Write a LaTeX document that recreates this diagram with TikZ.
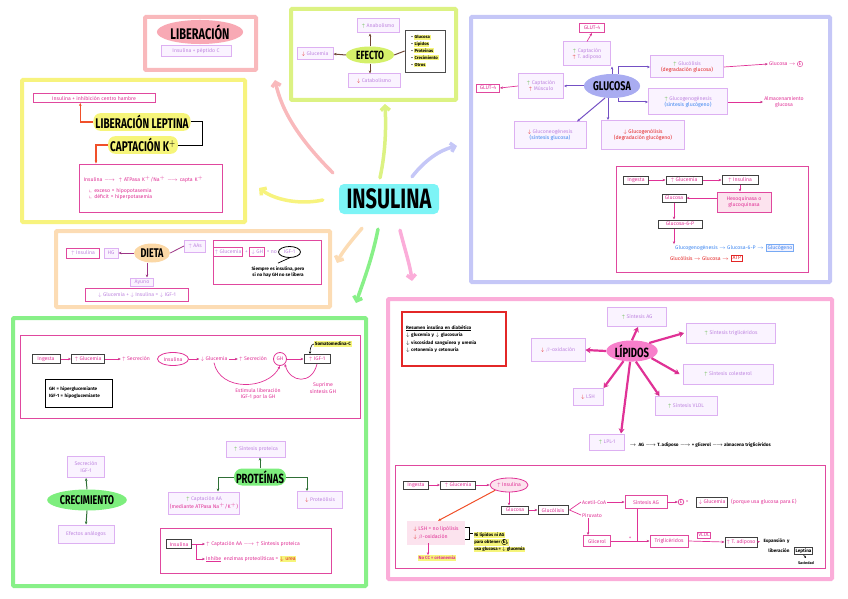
\documentclass[tikz,border=0pt]{standalone}
\usepackage{amssymb}
\usepackage{fontspec}
\setmainfont{Fira Sans}
\usetikzlibrary{arrows.meta,shapes.geometric,positioning}

% colours
\definecolor{libpink}{HTML}{F9B9BC}
\definecolor{lemon}{HTML}{F7F37E}
\definecolor{lime}{HTML}{DCF283}
\definecolor{lavreg}{HTML}{C5C7F7}
\definecolor{peach}{HTML}{FCDCB4}
\definecolor{mint}{HTML}{88F088}
\definecolor{rosereg}{HTML}{FBADD9}
\definecolor{framepink}{HTML}{E0489E}
\definecolor{lavline}{HTML}{DDB0F2}
\definecolor{lavfill}{HTML}{FAF3FF}
\definecolor{lavtext}{HTML}{BF86E0}
\definecolor{magtext}{HTML}{E03296}
\definecolor{upgreen}{HTML}{62B84A}
\definecolor{dnred}{HTML}{E32727}
\definecolor{bluetext}{HTML}{3D86F0}
\definecolor{cyanhub}{HTML}{7DF4F6}
\definecolor{hlyellow}{HTML}{F6F57A}
\definecolor{hlpink}{HTML}{F8A9B4}
\definecolor{limehub}{HTML}{D4F06A}
\definecolor{peachhub}{HTML}{FBD8A6}
\definecolor{glucohub}{HTML}{A9ACF1}
\definecolor{lipohub}{HTML}{F77FCB}
\definecolor{greenhub}{HTML}{7DEE7D}
\definecolor{purpline}{HTML}{7450C4}
\definecolor{brownline}{HTML}{6E4536}
\definecolor{plumline}{HTML}{9C3585}
\definecolor{forest}{HTML}{2F6F36}
\definecolor{orangered}{HTML}{F0502A}
\definecolor{nolipfill}{HTML}{FCE3EE}

\newcommand{\hand}{\fontsize{5.2}{6.2}\selectfont}
\newcommand{\tall}[1]{\scalebox{1}[1.4]{#1}}
\newcommand{\upg}{\textcolor{upgreen}{$\uparrow$}}
\newcommand{\upr}{\textcolor{dnred}{$\uparrow$}}
\newcommand{\dnr}{\textcolor{dnred}{$\downarrow$}}
\newcommand{\hly}[1]{{\setlength{\fboxsep}{0.6pt}\colorbox{hlyellow}{#1}}}
\newcommand{\encirc}[1]{\tikz[baseline=-0.6ex]\node[draw,circle,inner sep=0.3pt,font=\hand]{#1};}

\tikzset{
  region/.style={draw=#1, line width=4pt, rounded corners=1pt},
  frame/.style={draw=framepink, line width=0.9pt},
  lavbox/.style={draw=lavline, fill=lavfill, line width=1pt, text=lavtext,
    font=\hand, align=center, inner sep=1.5pt},
  pinkbox/.style={draw=framepink, fill=white, line width=0.9pt, text=magtext,
    font=\hand, align=center, inner sep=1.5pt},
  blackbox/.style={draw=black!75, line width=1pt, text=magtext, font=\hand,
    align=center, inner sep=1.2pt},
  hub/.style={fill=#1, ellipse, inner sep=1pt},
  note/.style={font=\hand, text=magtext, align=center, inner sep=1pt},
  branch/.style={draw=#1, line width=3.5pt, line cap=round,
    -{Straight Barb[length=4pt,width=9pt]}},
  link/.style={draw=magtext, line width=0.7pt, -{Stealth[length=3pt,width=2.4pt]}},
  arr/.style={draw=#1, line width=1pt, -{Stealth[length=3pt,width=2.6pt]}},
  fat/.style={draw=#1, line width=2.2pt, -{Stealth[length=5pt,width=6pt]}},
}

\begin{document}
\begin{tikzpicture}[x=1pt,y=-1pt]
\useasboundingbox (0,0) rectangle (848,599);

% regions
\draw[region=libpink] (145,17) rectangle (256,70);
\draw[region=lemon] (22,80) rectangle (245,222);
\draw[region=lime] (291,9) rectangle (456,100);
\draw[region=lavreg] (471,17) rectangle (830,282);
\draw[region=peach] (56,231) rectangle (330,307);
\draw[region=mint] (13,318) rectangle (366,586);
\draw[region=rosereg] (388,299) rectangle (832,579);

% inner frames
\draw[frame] (616,166) rectangle (808,272);
\draw[frame] (213,240) rectangle (321,284);
\draw[frame] (20,335) rectangle (360,418);
\draw[frame] (160,528) rectangle (331,573);
\draw[frame] (395,465) rectangle (825,568);

% centre
\node[fill=cyanhub, rounded corners=5pt, minimum width=100, minimum height=30,
  font=\fontsize{20}{22}\bfseries] (insulina) at (389,199) {\tall{INSULINA}};

\draw[branch=libpink] ([shift={(-6,-11)}]insulina.north west) .. controls (300,140) and (282,112) .. (275,80);
\draw[branch=lemon] ([shift={(-16,1)}]insulina.west) .. controls (300,205) and (275,200) .. (259,188);
\draw[branch=lime] ([shift={(-9,-6)}]insulina.north) .. controls (386,150) and (386,125) .. (385,104);
\draw[branch=lavreg] ([shift={(23,-7)}]insulina.north) .. controls (425,160) and (440,150) .. (457,146);
\draw[branch=peach] ([shift={(-27,14)}]insulina.south) .. controls (352,240) and (342,252) .. (337,263);
\draw[branch=mint] ([shift={(-11,15)}]insulina.south) .. controls (372,260) and (362,285) .. (356,303);
\draw[branch=rosereg] ([shift={(11,16)}]insulina.south) .. controls (405,250) and (410,265) .. (412,281);

% liberacion
\node[hub=hlpink, minimum width=78, minimum height=16, font=\fontsize{11}{12}\bfseries] (liber) at (200,32) {\tall{LIBERACIÓN}};
\node[lavbox, minimum width=70, minimum height=11] (pepc) at (196,51) {Insulina + péptido C};

% leptina y potasio
\node[pinkbox, minimum width=122, minimum height=9] (hambre) at (94,98) {Insulina + inhibición centro hambre};
\node[fill=hlyellow, rounded corners=7pt, inner sep=2pt, font=\fontsize{10}{11}\bfseries] (leptina) at (142,122) {\tall{LIBERACIÓN LEPTINA}};
\node[fill=hlyellow, rounded corners=7pt, inner sep=2pt, font=\fontsize{10}{11}\bfseries] (captk) at (143,145) {\tall{CAPTACIÓN K$^+$}};
\draw[line width=1pt] (leptina.east) -- ++(12,0) |- (captk.east);
\node[pinkbox, align=left, minimum width=143, minimum height=48, text width=134] (katp) at (150.5,188)
  {Insulina $\longrightarrow$ \ $\uparrow$ ATPasa K$^+$/Na$^+$ $\longrightarrow$ capta K$^+$\\[4pt]
   \quad$\llcorner$ exceso = hipopotasemia\\
   \quad$\llcorner$ déficit = hiperpotasemia};
\draw[arr=orangered, line width=1.3pt] (leptina.west) -- ++(-13,0) coordinate (lepc) -- (lepc |- hambre.south);
\draw[arr=orangered, line width=1.3pt] (captk.west) -- ++(-12,0) coordinate (kc) -- (kc |- katp.north);

% efecto
\node[hub=limehub, minimum width=48, minimum height=17, font=\fontsize{8.5}{9}\bfseries] (efecto) at (370,55) {\tall{EFECTO}};
\node[lavbox, minimum width=42, minimum height=14] (anab) at (378,26) {\upg\ Anabolismo};
\node[lavbox, minimum width=36, minimum height=12] (glucem) at (315,54) {\dnr\ Glucemia};
\node[lavbox, minimum width=52, minimum height=14] (catab) at (374,81) {\dnr\ Catabolismo};
\node[draw=black!70, line width=0.8pt, align=left, font=\fontsize{4.3}{6.8}\selectfont\bfseries,
  inner sep=2pt, minimum width=40, minimum height=42] (efelist) at (425,51)
  {• \hly{Glucosa}\\ • \hly{Lípidos}\\ • \hly{Proteínas}\\ • \hly{Crecimiento}\\ • \hly{Otros}};
\draw[arr=brownline] (efecto.north) -- (efecto.north |- anab.south);
\draw[arr=brownline] (efecto.south) -- (efecto.south |- catab.north);
\draw[arr=brownline] (efecto.west) -- (glucem.east);
\draw[brownline, line width=1pt] (efecto.east) -- (efelist.west);

% glucosa
\node[hub=glucohub, minimum width=52, minimum height=24, font=\fontsize{9}{10}\bfseries] (glucosa) at (612,86) {\tall{GLUCOSA}};
\node[pinkbox, minimum width=25, minimum height=9] (glutA) at (592,28) {GLUT-4};
\node[lavbox, minimum width=47, minimum height=24] (captad) at (587,54) {\upg\ Captación\\ \upr\ T. adiposo};
\node[lavbox, minimum width=45, minimum height=25] (captmus) at (541,86) {\upg\ Captación\\ \upr\ Músculo};
\node[pinkbox, minimum width=23, minimum height=8] (glutB) at (488,88) {GLUT-4};
\node[lavbox, minimum width=73, minimum height=22] (glucolis) at (687,67) {\upg\ Glucólisis\\ \textcolor{dnred}{(degradación glucosa)}};
\node[note] (gluce) at (786,64) {Glucosa $\rightarrow$ \encirc{E}};
\node[lavbox, minimum width=79, minimum height=26] (glucogen) at (688,102) {\upg\ Glucogenogénesis\\ \textcolor{bluetext}{(síntesis glucógeno)}};
\node[note] (almac) at (784,102) {Almacenamiento\\ glucosa};
\node[lavbox, minimum width=72, minimum height=26] (neo) at (550,135) {\dnr\ Gluconeogénesis\\ \textcolor{bluetext}{(síntesis glucosa)}};
\node[lavbox, text=dnred, minimum width=83, minimum height=29] (lisis) at (643,135) {$\downarrow$ Glucogenólisis\\ (degradación glucógeno)};
\draw[arr=purpline] (glucosa.north) -- (glucosa.north |- captad.south);
\draw[arr=purpline] (glucosa.west) -- (captmus.east);
\draw[arr=purpline] ([xshift=6]glucosa.north) |- (glucolis.west);
\draw[arr=purpline] ([xshift=6]glucosa.south) |- (glucogen.west);
\draw[arr=purpline] (glucosa.-120) -- ([xshift=27]neo.north);
\draw[arr=purpline] ([xshift=-4]glucosa.south) -- ([xshift=-35]lisis.north);
\draw[link] (captad.north) -- (glutA.south);
\draw[link] (captmus.west) -- (glutB.east);
\draw[link] (glucolis.east) -- (gluce.west);
\draw[link] (glucogen.east) -- (almac.west);

% glucosa: via hepatica
\node[blackbox, minimum width=25, minimum height=8] (ingA) at (636,180) {Ingesta};
\node[blackbox, minimum width=36, minimum height=8] (glmA) at (684,180) {$\uparrow$ Glucemia};
\node[blackbox, minimum width=36, minimum height=9] (insA) at (740,180) {$\uparrow$ Insulina};
\node[pinkbox, fill=nolipfill, minimum width=54, minimum height=20] (hexo) at (744,202) {Hexoquinasa o\\ glucoquinasa};
\node[blackbox, minimum width=24, minimum height=8] (glcA) at (674,198) {Glucosa};
\node[blackbox, minimum width=44, minimum height=8] (g6p) at (680,224) {Glucosa-6-P};
\node[note, text=bluetext, anchor=east] (glgen) at (765,248) {Glucogenogénesis $\rightarrow$ Glucosa-6-P $\rightarrow$};
\node[draw=bluetext!70, fill=blue!5, text=bluetext, font=\hand, inner sep=1.2pt, line width=0.8pt, right=1pt of glgen] (glucog) {Glucógeno};
\node[note, text=dnred, anchor=east] (glisA) at (730,258) {Glucólisis $\rightarrow$ Glucosa $\rightarrow$};
\node[draw=dnred, text=dnred, font=\hand, inner sep=1.2pt, line width=0.8pt, right=1pt of glisA] (atp) {ATP};
\draw[link] (ingA) -- (glmA);
\draw[link] (glmA) -- (insA);
\draw[link] (insA.south) -- (insA.south |- hexo.north);
\draw[link] (hexo.west |- glcA) -- (glcA.east);
\draw[link] (glcA.south) -- (glcA.south |- g6p.north);
\draw[link] (glcA |- g6p.south) -- (glcA |- glgen.north);

% dieta
\node[hub=peachhub, minimum width=36, minimum height=19, font=\fontsize{9}{10}\bfseries] (dieta) at (152,253) {\tall{DIETA}};
\node[pinkbox, text=lavtext, minimum width=33, minimum height=10] (insD) at (83,253) {$\uparrow$ Insulina};
\node[lavbox, minimum width=14, minimum height=10] (hgD) at (111,253) {HG};
\node[lavbox, minimum width=21, minimum height=12] (aasD) at (195,246) {$\uparrow$ AAs};
\node[lavbox, minimum width=23, minimum height=8] (ayuno) at (142,282) {Ayuno};
\node[pinkbox, text=lavtext, minimum width=103, minimum height=13] (ayres) at (137,295) {$\downarrow$ Glucemia + $\downarrow$ Insulina = $\downarrow$ IGF-1};
\draw[arr=plumline, line width=0.8pt] (dieta.west) -- (hgD.east);
\draw[plumline, line width=0.8pt] (dieta.east) -- (aasD.west);
\draw[arr=plumline, line width=0.8pt] ([xshift=-5]dieta.south) -- ([xshift=5]ayuno.north);
\node[pinkbox, text=lavtext, minimum width=28, minimum height=9] (glmD) at (228,252) {$\uparrow$ Glucemia};
\node[note, text=lavtext, right=0.5pt of glmD] (plusD) {+};
\node[pinkbox, text=lavtext, minimum width=14, minimum height=9, right=0.5pt of plusD] (ghD) {$\downarrow$ GH};
\node[note, text=lavtext, right=0.5pt of ghD] (eqD) {= no};
\node[draw=black, ellipse, line width=0.8pt, font=\hand, text=lavtext, inner sep=0.5pt,
  minimum width=22, minimum height=11, right=0pt of eqD] (igfD) {IGF-1};
\node[font=\fontsize{4.6}{6}\selectfont\bfseries, align=center] (noteD) at (278,272) {Siempre es insulina, pero\\ si no hay GH no se libera};
\draw[line width=0.7pt] (igfD.south) -- (noteD.north);

% crecimiento: eje GH / IGF-1
\node[blackbox, minimum width=28, minimum height=9] (ingG) at (46,359) {Ingesta};
\node[blackbox, minimum width=33, minimum height=9] (glmG) at (88,359) {$\uparrow$ Glucemia};
\node[note] (secG) at (136,359) {$\uparrow$ Secreción};
\node[draw=magtext, ellipse, line width=0.8pt, text=magtext, font=\hand, inner sep=0.5pt,
  minimum width=31, minimum height=13] (insG) at (173,359) {Insulina};
\node[note] (glmG2) at (214,359) {$\downarrow$ Glucemia};
\node[note] (secG2) at (253,359) {$\uparrow$ Secreción};
\node[draw=magtext, circle, line width=0.8pt, text=magtext, font=\hand, inner sep=0.5pt, minimum size=13] (ghG) at (280,359) {GH};
\node[blackbox, minimum width=26, minimum height=9] (igfG) at (317,359) {$\uparrow$ IGF-1};
\node[font=\fontsize{4.6}{5}\selectfont\bfseries, fill=hlyellow, inner sep=0.8pt] (somat) at (333,344) {Somatomedina-C};
\draw[link] (ingG) -- (glmG);
\draw[link] (glmG) -- (secG);
\draw[link] (insG) -- (glmG2);
\draw[link] (glmG2) -- (secG2);
\draw[link] (ghG) -- (igfG);
\draw[-{Stealth[length=2.5pt,width=2.2pt]}, line width=0.6pt] (somat.west) .. controls +(-3,0) and +(0,-4) .. ([xshift=-7]igfG.north);
\draw[link] (glmG2.south) .. controls (220,392) and (268,390) .. (ghG.south);
\node[note] (estim) at (258,394) {Estimula liberación\\ IGF-1 por la GH};
\draw[link] (igfG.south) .. controls (312,385) and (290,383) .. (ghG.south east);
\node[note] (supr) at (323,388) {Suprime\\ síntesis GH};
\node[draw=black, line width=0.9pt, align=left, font=\fontsize{4.6}{7}\selectfont\bfseries,
  minimum width=66, minimum height=28, text width=60] (legend) at (79,393) {GH = hiperglucemiante\\ IGF-1 = hipoglucemiante};

% crecimiento y proteinas
\node[hub=greenhub, minimum width=72, minimum height=21, font=\fontsize{9}{10}\bfseries] (crec) at (87,500) {\tall{CRECIMIENTO}};
\node[lavbox, minimum width=37, minimum height=21] (secigf) at (86,467) {Secreción\\ IGF-1};
\node[lavbox, minimum width=56, minimum height=18] (efan) at (86,534) {Efectos análogos};
\draw[arr=forest] (crec.north) -- (secigf.south);
\draw[arr=forest] (crec.south) -- (efan.north);
\node[fill=greenhub, rounded corners=8pt, inner sep=2pt, minimum height=17, font=\fontsize{9.5}{10}\bfseries] (prot) at (260,477) {\tall{PROTEÍNAS}};
\node[lavbox, minimum width=59, minimum height=16] (sintp) at (256,449) {\upg\ Síntesis proteica};
\node[lavbox, minimum width=64, minimum height=22] (captaa) at (204,503) {\upg\ Captación AA\\ \textcolor{magtext}{(mediante ATPasa Na$^+$/K$^+$)}};
\node[lavbox, minimum width=45, minimum height=17] (proteol) at (320,500) {\dnr\ Proteólisis};
\draw[arr=forest] (prot.north) -- (prot.north |- sintp.south);
\draw[arr=forest] (prot.west) -| ([xshift=14]captaa.north);
\draw[arr=forest] (prot.east) -| ([xshift=-13]proteol.north);
\node[blackbox, minimum width=25, minimum height=9] (insP) at (179,544) {Insulina};
\node[note, anchor=west] (protA) at (205,544) {$\uparrow$ Captación AA $\longrightarrow$ $\uparrow$ Síntesis proteica};
\node[note, anchor=west] (protB) at (205,559) {\underline{Inhibe} \ enzimas proteolíticas = \hly{\textcolor{dnred}{$\downarrow$ urea}}};
\draw[link] (insP.east) -- (protA.west);
\draw[link] ([xshift=4]insP.east) |- (protB.west);

% lipidos
\node[draw=dnred, line width=1.5pt, align=left, font=\fontsize{4.6}{7.5}\selectfont\bfseries,
  text width=96, minimum height=54, inner sep=4pt] (resumen) at (454,339)
  {\underline{Resumen insulina en diabético}\\ $\downarrow$ glucemia y $\downarrow$ glucosuria\\
   $\downarrow$ viscosidad sanguínea y uremia\\ $\downarrow$ cetonemia y cetonuria};
\node[hub=lipohub, minimum width=46, minimum height=21, font=\fontsize{9.5}{10}\bfseries] (lipidos) at (632,351) {\tall{LÍPIDOS}};
\node[lavbox, minimum width=59, minimum height=19] (sag) at (637,317) {\upg\ Síntesis AG};
\node[lavbox, minimum width=89, minimum height=20] (stg) at (731,333) {\upg\ Síntesis triglicéridos};
\node[lavbox, minimum width=54, minimum height=23] (boxi) at (558,350) {\dnr\ $\beta$-oxidación};
\node[lavbox, minimum width=90, minimum height=20] (scol) at (728,374) {\upg\ Síntesis colesterol};
\node[lavbox, minimum width=30, minimum height=17] (lsh) at (588,397) {\dnr\ LSH};
\node[lavbox, minimum width=62, minimum height=19] (svldl) at (686,406) {\upg\ Síntesis VLDL};
\node[lavbox, minimum width=35, minimum height=16] (lpl) at (607,442) {\upg\ LPL-1};
\node[font=\fontsize{4.6}{5}\selectfont\bfseries, anchor=west] (lplt) at (626,445)
  {$\rightarrow$ \ AG $\longrightarrow$ T. adiposo $\longrightarrow$ + glicerol $\longrightarrow$ almacena triglicéridos};
\draw[fat=magtext] (lipidos.north) -- ([xshift=1]sag.south);
\draw[fat=magtext] (lipidos.25) -- ([xshift=-2]stg.west);
\draw[fat=magtext] (lipidos.west) -- (boxi.east);
\draw[fat=magtext] (lipidos.-20) -- ([xshift=-3]scol.west);
\draw[fat=magtext] (lipidos.-130) -- (lsh.north east);
\draw[fat=magtext] (lipidos.-70) -- ([xshift=5]svldl.north west);
\draw[fat=magtext] (lipidos.-100) -- ([xshift=-4]lpl.north east);

% lipidos: via del tejido adiposo
\node[blackbox, minimum width=25, minimum height=8] (ingL) at (416,485) {Ingesta};
\node[blackbox, minimum width=35, minimum height=8] (glmL) at (458,485) {$\uparrow$ Glucemia};
\node[draw=magtext, fill=nolipfill, ellipse, line width=0.8pt, text=magtext, font=\hand,
  inner sep=0.5pt, minimum width=38, minimum height=14] (insL) at (509,485) {$\uparrow$ Insulina};
\node[blackbox, minimum width=27, minimum height=8] (glcL) at (515,510) {Glucosa};
\node[blackbox, minimum width=30, minimum height=9] (glisL) at (553,510) {Glucólisis};
\node[note, anchor=west] (acet) at (581,502) {Acetil-CoA};
\node[note, anchor=west] (piru) at (581,515) {Piruvato};
\node[pinkbox, minimum width=27, minimum height=11] (glic) at (597,541) {Glicerol};
\node[pinkbox, minimum width=42, minimum height=13] (sagL) at (646,502) {Síntesis AG};
\node[draw=magtext, circle, line width=0.7pt, text=magtext, font=\hand, inner sep=0.4pt] (ecirc) at (681,502) {E};
\node[note, right=0.5pt of ecirc] (eqL) {=};
\node[blackbox, minimum width=31, minimum height=10] (glmL2) at (712,502) {$\downarrow$ Glucemia};
\node[note, anchor=west] (porq) at (730,502) {(porque usa glucosa para E)};
\node[pinkbox, minimum width=38, minimum height=12] (tgl) at (669,541) {Triglicéridos};
\node[blackbox, minimum width=32, minimum height=10] (tad) at (741,542) {$\uparrow$ T. adiposo};
\node[pinkbox, minimum width=13, minimum height=6, inner sep=0.6pt] (vldl) at (704,535) {VLDL};
\node[font=\fontsize{4.6}{5}\selectfont\bfseries, anchor=west] (expan) at (760,541) {Expansión \ y};
\node[font=\fontsize{4.6}{5}\selectfont\bfseries, anchor=east] (libL) at (793,551) {liberación};
\node[blackbox, text=black, font=\fontsize{4.6}{5}\selectfont\bfseries, right=1pt of libL] (leptL) {Leptina};
\node[font=\fontsize{3.8}{4}\selectfont\bfseries] (sac) at (806,563) {Saciedad};
\draw[link] (ingL) -- (glmL);
\draw[link] (glmL) -- (insL);
\draw[link] (insL.south) -- (insL.south |- glcL.north);
\draw[link] (glcL) -- (glisL);
\draw[magtext, line width=0.7pt] ([xshift=1]glisL.east) -- (acet.west);
\draw[magtext, line width=0.7pt] ([xshift=1]glisL.east) -- (piru.west);
\draw[link] (acet.east) -- (sagL.west);
\draw[link] ([xshift=-4]piru.south) -- ([xshift=-4]piru.south |- glic.north);
\draw[link] (sagL.east) -- (ecirc.west);
\draw[link] (glic.east) -- node[note, above] {+} (tgl.west);
\draw[magtext, line width=0.7pt] ([xshift=-9]sagL.south) -- ([xshift=-9]sagL.south |- tgl.west);
\draw[link] (tgl.east) -- (tad.west);
\draw[link] (tad.east) -- (expan.west);
\draw[-{Stealth[length=2pt,width=2pt]}, line width=0.5pt] (leptL.south) -- (sac.north);

\node[fill=nolipfill, text=magtext, font=\hand, align=left, minimum width=58, minimum height=24, inner sep=2pt] (nolip) at (436,533)
  {\dnr\ LSH = no lipólisis\\[2pt] \dnr\ $\beta$-oxidación};
\draw[arr=orangered] (insL.south west) -- ([xshift=2]nolip.north);
\draw[line width=0.8pt] ([yshift=5.5]nolip.east) -- ++(4,0) coordinate (bk) -- ([xshift=4,yshift=-6.5]nolip.east) -- ([yshift=-6.5]nolip.east);
\node[font=\fontsize{4.4}{6.2}\selectfont\bfseries, align=left, anchor=west, inner sep=0.5pt] (nolipt) at (473,542)
  {\hly{Ni lípidos ni AG}\\ \hly{para obtener \encirc{E},}\\ \hly{usa glucosa = $\downarrow$ glucemia}};
\draw[line width=0.8pt] (bk |- nolip.east) -- (nolipt.west |- nolip.east);
\node[font=\fontsize{4.4}{5}\selectfont\bfseries, fill=hlyellow, inner sep=0.8pt, text=magtext] (nocc) at (437,558) {No CC = cetonemia};
\draw[link] ([xshift=-8,yshift=2]nolip.south) -- ([xshift=-9]nocc.north);
\end{tikzpicture}
\end{document}
